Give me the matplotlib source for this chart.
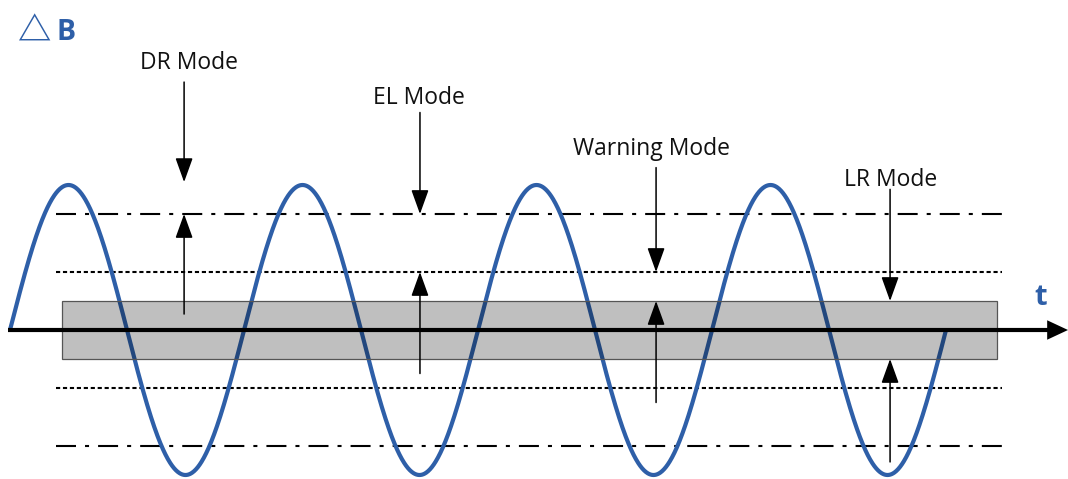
import numpy as np
import matplotlib
matplotlib.use("Agg")
import matplotlib.pyplot as plt
from matplotlib.patches import FancyArrowPatch, Rectangle

plt.rcParams['font.family'] = ['Open Sans', 'DejaVu Sans']
plt.rcParams['lines.scale_dashes'] = False

# ---- data (x in wave periods, y in amplitude units) ----
n_cycles = 4
amplitude = 1.0
band_half = 0.2          # grey band
warn_level = 0.4         # dotted lines
limit_level = 0.8        # dash-dot lines
band_x = [0.222, 4.218]
line_x = [0.197, 4.239]

mode_labels = ["DR Mode", "EL Mode", "Warning Mode", "LR Mode"]
mode_x = [0.744, 1.752, 2.761, 3.761]
label_x = [0.767, 1.748, 2.742, 3.765]
label_y = [1.80, 1.56, 1.21, 0.996]
down_from = [1.71, 1.50, 1.12, 0.97]
down_to = [1.02, 0.80, 0.40, 0.20]
up_from = [0.11, -0.30, -0.50, -0.91]
up_to = [0.80, 0.40, 0.20, -0.20]

blue = '#2e5fa8'
px = 1 / 234.0             # one pixel in x units
py = 1 / 145.0             # one pixel in y units

fig = plt.figure(figsize=(10.68, 4.79), dpi=100)
ax = fig.add_axes([0, 0, 1, 1])
ax.set_xlim(-10 / 234, 1058 / 234)
ax.set_ylim(-149 / 145, 330 / 145)
ax.axis('off')

t = np.linspace(0, n_cycles, 2000)
ax.plot(t, amplitude * np.sin(2 * np.pi * t), color=blue, lw=3.0,
        solid_capstyle='butt', zorder=2)

ax.add_patch(Rectangle((band_x[0], -band_half), band_x[1] - band_x[0],
                       2 * band_half, facecolor=(0, 0, 0, 0.25),
                       edgecolor='#555555', lw=0.9, zorder=3))

for s in (1, -1):
    ax.plot(line_x, [s * limit_level] * 2, color='black', lw=1.5,
            dashes=(14.4, 6.5, 2.9, 6.5), zorder=1)
    ax.plot(line_x, [s * warn_level] * 2, color='black', lw=1.5,
            dashes=(3.0, 2.0), zorder=1)

# time axis
ax.plot([-2 * px, 1038 * px], [0, 0], color='black', lw=3.0,
        solid_capstyle='butt', zorder=4)
ax.add_patch(FancyArrowPatch((1030 * px, 0), (1058 * px, 0),
                             arrowstyle='-|>,head_length=15,head_width=7',
                             mutation_scale=1, color='black', lw=0,
                             shrinkA=0, shrinkB=0, zorder=5))

for lab, x, lx, ly, d0, d1, u0, u1 in zip(mode_labels, mode_x, label_x,
                                          label_y, down_from, down_to,
                                          up_from, up_to):
    for a, b in ((d0, d1), (u0, u1)):
        ax.add_patch(FancyArrowPatch((x, a), (x, b),
                                     arrowstyle='-|>,head_length=15,head_width=5.4',
                                     mutation_scale=1, color='black', lw=1.1,
                                     shrinkA=0, shrinkB=0, zorder=6))
    ax.text(lx, ly, lab, ha='center', va='baseline', fontsize=16.5,
            color='#111111')

ax.text(8 * px, 288 * py, '△', fontsize=24, color=blue, ha='left',
        va='baseline', fontweight='bold',
        family=['Noto Sans CJK SC', 'DejaVu Sans'])
ax.text(46 * px, 290 * py, 'B', fontsize=20.5, color=blue, ha='left',
        va='baseline', fontweight='bold')
ax.text(1024 * px, 25 * py, 't', fontsize=21, color=blue, ha='left',
        va='baseline', fontweight='bold')

fig.savefig('out.png', dpi=100)
